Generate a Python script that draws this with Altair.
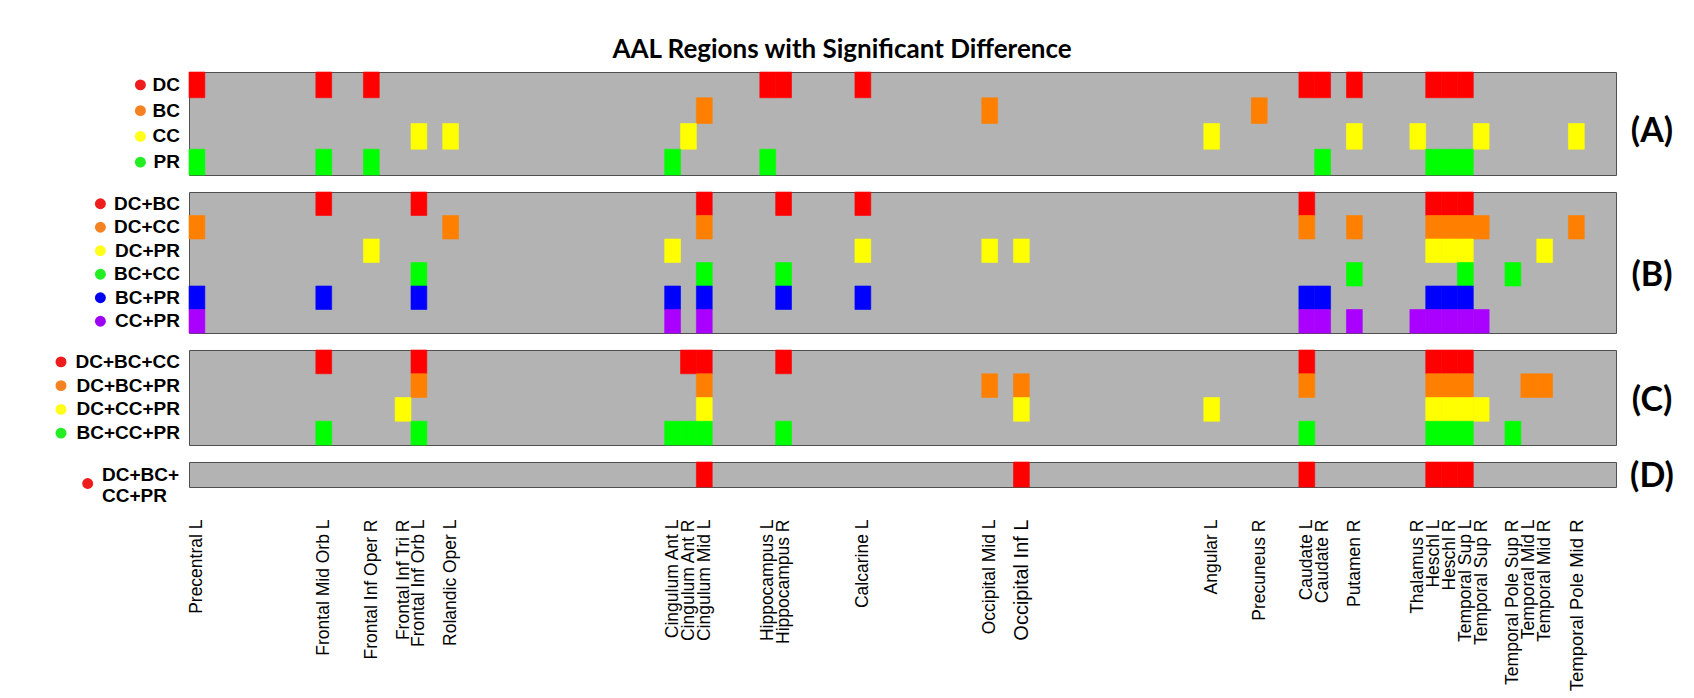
import json
import altair as alt
import pandas as pd

# ---------------- data ----------------
REGIONS = [
    "Precentral L", "Precentral R", "Frontal Sup L", "Frontal Sup R", "Frontal Sup Orb L", "Frontal Sup Orb R",
    "Frontal Mid L", "Frontal Mid R", "Frontal Mid Orb L", "Frontal Mid Orb R", "Frontal Inf Oper L", "Frontal Inf Oper R",
    "Frontal Inf Tri L", "Frontal Inf Tri R", "Frontal Inf Orb L", "Frontal Inf Orb R", "Rolandic Oper L", "Rolandic Oper R",
    "Supp Motor Area L", "Supp Motor Area R", "Olfactory L", "Olfactory R", "Frontal Sup Medial L", "Frontal Sup Medial R",
    "Frontal Med Orb L", "Frontal Med Orb R", "Rectus L", "Rectus R", "Insula L", "Insula R",
    "Cingulum Ant L", "Cingulum Ant R", "Cingulum Mid L", "Cingulum Mid R", "Cingulum Post L", "Cingulum Post R",
    "Hippocampus L", "Hippocampus R", "ParaHippocampal L", "ParaHippocampal R", "Amygdala L", "Amygdala R",
    "Calcarine L", "Calcarine R", "Cuneus L", "Cuneus R", "Lingual L", "Lingual R",
    "Occipital Sup L", "Occipital Sup R", "Occipital Mid L", "Occipital Mid R", "Occipital Inf L", "Occipital Inf R",
    "Fusiform L", "Fusiform R", "Postcentral L", "Postcentral R", "Parietal Sup L", "Parietal Sup R",
    "Parietal Inf L", "Parietal Inf R", "SupraMarginal L", "SupraMarginal R", "Angular L", "Angular R",
    "Precuneus L", "Precuneus R", "Paracentral Lobule L", "Paracentral Lobule R", "Caudate L", "Caudate R",
    "Putamen L", "Putamen R", "Pallidum L", "Pallidum R", "Thalamus L", "Thalamus R",
    "Heschl L", "Heschl R", "Temporal Sup L", "Temporal Sup R", "Temporal Pole Sup L", "Temporal Pole Sup R",
    "Temporal Mid L", "Temporal Mid R", "Temporal Pole Mid L", "Temporal Pole Mid R", "Temporal Inf L", "Temporal Inf R",
]

TICK_REGIONS = [
    "Precentral L", "Frontal Mid Orb L", "Frontal Inf Oper R", "Frontal Inf Tri R", "Frontal Inf Orb L",
    "Rolandic Oper L", "Cingulum Ant L", "Cingulum Ant R", "Cingulum Mid L", "Hippocampus L", "Hippocampus R",
    "Calcarine L", "Occipital Mid L", "Occipital Inf L", "Angular L", "Precuneus R", "Caudate L", "Caudate R",
    "Putamen R", "Thalamus R", "Heschl L", "Heschl R", "Temporal Sup L", "Temporal Sup R",
    "Temporal Pole Sup R", "Temporal Mid L", "Temporal Mid R", "Temporal Pole Mid R",
]

TITLE = "AAL Regions with Significant Difference"

# significant regions (0-based AAL index) per comparison row
A_ROWS = ["DC", "BC", "CC", "PR"]
A_CELLS = [
    [0, 8, 11, 36, 37, 42, 70, 71, 73, 78, 79, 80],
    [32, 50, 67],
    [14, 16, 31, 64, 73, 77, 81, 87],
    [0, 8, 11, 30, 36, 71, 78, 79, 80],
]
B_ROWS = ["DC+BC", "DC+CC", "DC+PR", "BC+CC", "BC+PR", "CC+PR"]
B_CELLS = [
    [8, 14, 32, 37, 42, 70, 78, 79, 80],
    [0, 16, 32, 70, 73, 78, 79, 80, 81, 87],
    [11, 30, 42, 50, 52, 78, 79, 80, 85],
    [14, 32, 37, 73, 80, 83],
    [0, 8, 14, 30, 32, 37, 42, 70, 71, 78, 79, 80],
    [0, 30, 32, 70, 71, 73, 77, 78, 79, 80, 81],
]
C_ROWS = ["DC+BC+CC", "DC+BC+PR", "DC+CC+PR", "BC+CC+PR"]
C_CELLS = [
    [8, 14, 31, 32, 37, 70, 78, 79, 80],
    [14, 32, 50, 52, 70, 78, 79, 80, 84, 85],
    [13, 32, 52, 64, 78, 79, 80, 81],
    [8, 14, 30, 31, 32, 37, 70, 78, 79, 80, 83],
]
D_ROWS = ["DC+BC+CC+PR"]
D_CELLS = [
    [32, 52, 70, 78, 79, 80],
]

# ---------------- style ----------------
ROW_COLORS = ["#ff0000", "#ff8000", "#ffff00", "#00ff00", "#0000ff", "#aa00ff"]
DOT_COLORS = ["#ee1c1c", "#f58220", "#ffff1a", "#22ee22", "#0000ee", "#9e00f5"]
FONT = "Liberation Sans"
BIG_FONT = "Lato"
W = 1427
N = len(REGIONS)
XS = alt.Scale(domain=[0, N], nice=False, zero=False)

tick_vals = [REGIONS.index(r) + 0.5 for r in TICK_REGIONS]
occ_v = REGIONS.index("Occipital Inf L") + 0.5
tpm_v = REGIONS.index("Temporal Pole Mid R") + 0.5


def panel(rows, cells, height, letter, letter_y, dot_x, bottom_axis=False,
          two_line=False, title=False):
    recs = []
    for i, cols in enumerate(cells):
        for c in cols:
            recs.append({"row": rows[i], "start": c, "end": c + 1, "color": ROW_COLORS[i]})
    cdf = pd.DataFrame(recs)
    rdf = pd.DataFrame({
        "row": rows,
        "color": DOT_COLORS[:len(rows)],
        "text": [r.replace("BC+CC", "BC+\nCC") if two_line else r for r in rows],
    })
    yenc = alt.Y("row:N", sort=rows, axis=None,
                 scale=alt.Scale(paddingInner=0, paddingOuter=0))
    if bottom_axis:
        xaxis = alt.Axis(
            values=tick_vals,
            labelExpr=json.dumps(REGIONS) + "[floor(datum.value)]",
            labelAngle=270, ticks=False, domain=False, grid=False,
            labelFont=FONT, labelColor="#000000",
            labelFontSize={"condition": [
                {"test": "datum.value == %s" % occ_v, "value": 20},
                {"test": "datum.value == %s" % tpm_v, "value": 18.5},
            ], "value": 17.5},
            labelPadding=32, labelOverlap=False, labelLimit=0, labelFlush=False,
        )
        x = alt.X("start:Q", scale=XS, axis=xaxis, title=None)
    else:
        x = alt.X("start:Q", scale=XS, axis=None)

    rect = alt.Chart(cdf).mark_rect(strokeWidth=0.6).encode(
        x=x, x2="end:Q", y=yenc,
        color=alt.Color("color:N", scale=None),
        stroke=alt.Stroke("color:N", scale=None),
    )
    layers = [rect]
    if two_line:
        lab = alt.Chart(rdf).mark_text(
            align="left", baseline="middle", font=FONT, fontWeight="bold",
            fontSize=19, lineBreak="\n", lineHeight=21, dy=0, color="#000000",
        ).encode(x=alt.value(-87), y=yenc, text="text:N")
        dots = alt.Chart(rdf).mark_circle(size=120, opacity=1).encode(
            x=alt.value(dot_x), y=yenc, yOffset=alt.value(21.5),
            color=alt.Color("color:N", scale=None))
    else:
        lab = alt.Chart(rdf).mark_text(
            align="right", baseline="middle", font=FONT, fontWeight="bold",
            fontSize=19, dx=-9, color="#000000",
        ).encode(x=alt.value(0), y=yenc, text="text:N")
        dots = alt.Chart(rdf).mark_circle(size=120, opacity=1).encode(
            x=alt.value(dot_x), y=yenc, color=alt.Color("color:N", scale=None))
    layers += [lab, dots]
    let = alt.Chart(pd.DataFrame({"t": [letter]})).mark_text(
        font=BIG_FONT, fontWeight="bold", fontSize=34, align="center",
        baseline="middle", color="#000000",
    ).encode(x=alt.value(W + 36), y=alt.value(letter_y), text="t:N")
    layers.append(let)
    if title:
        tt = alt.Chart(pd.DataFrame({"t": [TITLE]})).mark_text(
            font=BIG_FONT, fontWeight="bold", fontSize=26, align="center",
            baseline="middle", color="#000000",
        ).encode(x=alt.value(653), y=alt.value(-22), text="t:N")
        layers.append(tt)
    return alt.layer(*layers).properties(width=W, height=height)


pa = panel(A_ROWS, A_CELLS, 103, "(A)", 60, -48.6, title=True)
pb = panel(B_ROWS, B_CELLS, 141, "(B)", 84, -88.6)
pc = panel(C_ROWS, C_CELLS, 95, "(C)", 51, -128)
pd_ = panel(D_ROWS, D_CELLS, 25, "(D)", 15, -101.3, bottom_axis=True, two_line=True)

chart = (
    alt.vconcat(pa, pb, pc, pd_, spacing=17, bounds="flush")
    .resolve_scale(y="independent")
    .configure_view(fill="#b3b3b3", stroke="#505050", strokeWidth=1)
    .properties(padding={"left": 47, "top": 28, "right": 5, "bottom": 5}, background="#ffffff")
)

chart.save("out.html", embed_options={"renderer": "svg", "actions": False})
